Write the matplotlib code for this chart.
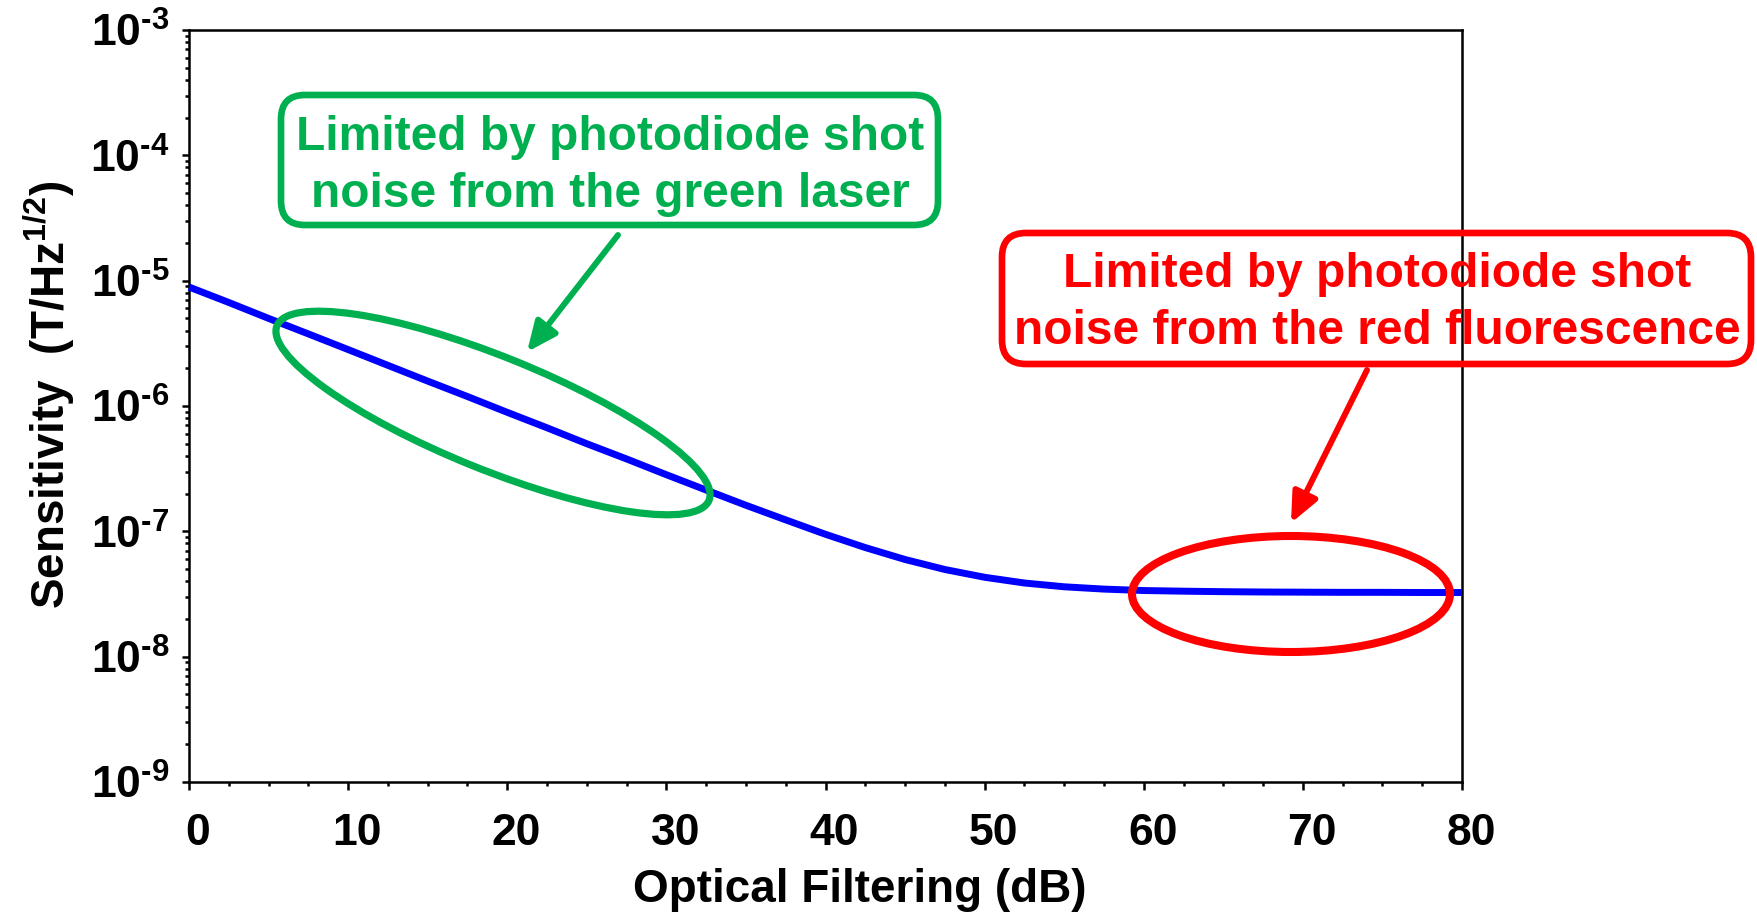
import numpy as np
import matplotlib.pyplot as plt
from matplotlib.patches import Ellipse, FancyBboxPatch, FancyArrowPatch
from matplotlib.ticker import MultipleLocator, LogLocator, FuncFormatter, NullFormatter
import matplotlib.transforms as mtransforms

plt.rcParams['font.family'] = ['Liberation Sans', 'DejaVu Sans']
plt.rcParams['font.weight'] = 'bold'
plt.rcParams['mathtext.fontset'] = 'custom'
plt.rcParams['mathtext.rm'] = 'Liberation Sans:bold'
plt.rcParams['mathtext.bf'] = 'Liberation Sans:bold'
plt.rcParams['mathtext.it'] = 'Liberation Sans:bold:italic'

# optical filtering of the green light (dB) vs. magnetic sensitivity (T/Hz^1/2)
filtering_db = [0, 2.5, 5, 7.5, 10, 12.5, 15, 17.5, 20, 22.5, 25, 27.5, 30,
                32.5, 35, 37.5, 40, 42.5, 45, 47.5, 50, 52.5, 55, 57.5, 60,
                62.5, 65, 67.5, 70, 72.5, 75, 77.5, 80]
sensitivity = [8.9e-6, 6.7e-6, 5.0e-6, 3.76e-6, 2.82e-6, 2.11e-6, 1.58e-6,
               1.19e-6, 8.9e-7, 6.7e-7, 5.0e-7, 3.78e-7, 2.83e-7, 2.135e-7,
               1.614e-7, 1.234e-7, 9.47e-8, 7.42e-8, 5.96e-8, 4.96e-8, 4.30e-8,
               3.87e-8, 3.61e-8, 3.46e-8, 3.37e-8, 3.33e-8, 3.30e-8, 3.28e-8,
               3.27e-8, 3.26e-8, 3.26e-8, 3.25e-8, 3.25e-8]

x_ticks = [0, 10, 20, 30, 40, 50, 60, 70, 80]
y_ticks = [1e-9, 1e-8, 1e-7, 1e-6, 1e-5, 1e-4, 1e-3]
green_note = "Limited by photodiode shot\nnoise from the green laser"
red_note = "Limited by photodiode shot\nnoise from the red fluorescence"

GREEN = '#00B050'
RED = '#FF0000'
BLUE = '#0000FF'

W, H = 1757, 913
fig = plt.figure(figsize=(W / 100, H / 100), dpi=100)
ax = fig.add_axes([189 / W, 1 - 782 / H, (1462 - 189) / W, (782 - 30) / H])

ax.plot(filtering_db, sensitivity, color=BLUE, lw=5, clip_on=False,
        solid_capstyle='butt', zorder=3)

ax.set_yscale('log')
ax.set_xlim(0, 80)
ax.set_ylim(1e-9, 1e-3)
ax.set_xticks(x_ticks)
ax.set_yticks(y_ticks)
ax.xaxis.set_minor_locator(MultipleLocator(2.5))
ax.yaxis.set_minor_locator(LogLocator(base=10, subs=np.arange(2, 10), numticks=20))
ax.yaxis.set_minor_formatter(NullFormatter())
ax.yaxis.set_major_formatter(
    FuncFormatter(lambda v, _: r'$\mathbf{10^{\text{-}%d}}$' % abs(round(np.log10(v)))))

for s in ax.spines.values():
    s.set_linewidth(1.8)
ax.tick_params(which='both', direction='out', top=False, right=False, width=1.8)
ax.tick_params(axis='x', which='major', length=6, pad=16, labelsize=32)
ax.tick_params(axis='x', which='minor', length=3)
ax.tick_params(axis='y', which='major', length=5, pad=9, labelsize=32)
ax.tick_params(axis='y', which='minor', length=3)

# x tick labels sit a little to the right of their ticks
shift = mtransforms.ScaledTranslation(9 / 100, 0, fig.dpi_scale_trans)
for lbl in ax.get_xticklabels():
    lbl.set_transform(lbl.get_transform() + shift)

ax.set_xlabel('Optical Filtering (dB)', fontsize=33, fontweight='bold')
ax.xaxis.set_label_coords(0.527, -0.114)
ax.set_ylabel(r'Sensitivity  (T/$\mathbf{Hz^{1/2}}$)', fontsize=33,
              fontweight='bold')
ax.yaxis.set_label_coords(-0.088, 0.515)


def px(x, y):
    # pixel position (from top-left) to figure inches
    return (x / 100, (H - y) / 100)


def note_box(x0, y0, x1, y1, color):
    fig.add_artist(FancyBboxPatch(px(x0, y1), (x1 - x0) / 100, (y1 - y0) / 100,
                                  boxstyle='round,pad=0,rounding_size=0.24',
                                  transform=fig.dpi_scale_trans, fill=False,
                                  ec=color, lw=4.8, clip_on=False, zorder=5))


def arrow(p0, p1, color):
    fig.add_artist(FancyArrowPatch(px(*p0), px(*p1), transform=fig.dpi_scale_trans,
                                   arrowstyle='-|>,head_length=0.45,head_width=0.2',
                                   mutation_scale=40, color=color, lw=4.3,
                                   shrinkA=0, shrinkB=0, zorder=5))


# green annotation
fig.add_artist(Ellipse(px(493, 413), 4.66, 1.13, angle=-22, transform=fig.dpi_scale_trans,
                       fill=False, ec=GREEN, lw=5.2, zorder=5))
note_box(281, 95, 938, 225, GREEN)
fig.text(610 / W, 1 - 166 / H, green_note, ha='center', va='center',
         fontsize=34.5, fontweight='bold', color=GREEN, linespacing=1.33)
arrow((618, 235), (527, 352), GREEN)

# red annotation
fig.add_artist(Ellipse(px(1291, 594), 3.18, 1.16, angle=0, transform=fig.dpi_scale_trans,
                       fill=False, ec=RED, lw=5.8, zorder=5))
note_box(1002, 233, 1751, 364, RED)
fig.text(1377 / W, 1 - 303 / H, red_note, ha='center', va='center',
         fontsize=34.5, fontweight='bold', color=RED, linespacing=1.33)
arrow((1367, 370), (1291, 523), RED)

fig.savefig('out.png', dpi=100)
